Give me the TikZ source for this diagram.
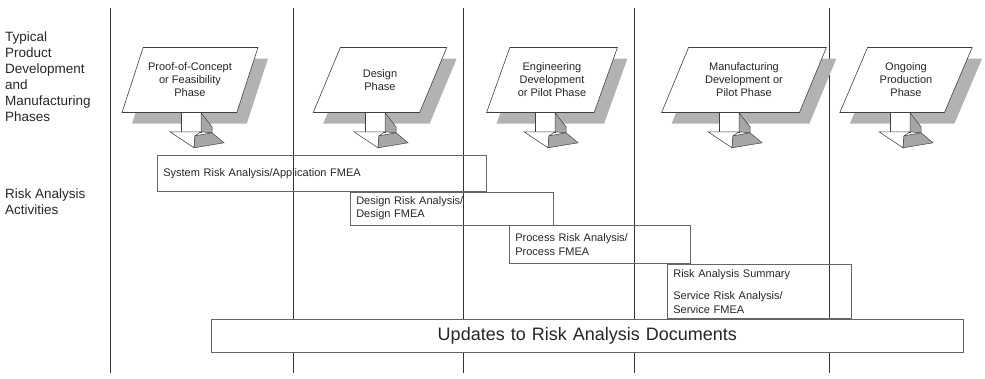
\documentclass[tikz,border=0pt]{standalone}
\usepackage{fontspec}
\setmainfont{Liberation Sans}
\usetikzlibrary{shapes.geometric}
\usetikzlibrary{shadows}
\usetikzlibrary{positioning}

\tikzset{
  phase/.style={trapezium, trapezium left angle=61, trapezium right angle=119,
    trapezium stretches=true, draw=black!75, line width=0.6pt, fill=white,
    minimum height=65pt, inner sep=0pt, align=center, text=black!85,
    font=\fontsize{11}{13}\selectfont,
    drop shadow={shadow xshift=10pt, shadow yshift=-11pt, fill=black!30, opacity=1}},
  riskbox/.style={draw=black!60, line width=0.6pt, anchor=north west, inner xsep=6pt,
    inner ysep=3pt, align=left, text=black!85, font=\fontsize{11}{13.5}\selectfont},
  sidelabel/.style={anchor=west, inner sep=0pt, align=left, text=black!85,
    font=\fontsize{13.5}{16}\selectfont},
  divider/.style={draw=black!80, line width=0.8pt},
  blockarrow/.pic={
    \filldraw[fill=white, draw=black!75, line width=0.5pt] (0,0) -- (0,-19) -- (20,-19) -- (20,0);
    \filldraw[fill=black!35, draw=black!75, line width=0.5pt] (20,0) -- (31,-14) -- (31,-20) -- (20,-19) -- cycle;
    \filldraw[fill=white, draw=black!75, line width=0.5pt] (-11,-19) -- (20,-19) -- (14,-23) -- (13,-35) -- cycle;
    \filldraw[fill=black!35, draw=black!75, line width=0.5pt] (14,-23) -- (31,-20) -- (43,-30) -- (13,-35) -- cycle;
  }
}

\begin{document}
\begin{tikzpicture}[x=1pt, y=1pt]
\useasboundingbox (0,0) rectangle (985,-378);

% Column dividers
\foreach \x in {110,293,463,634,829}
  \draw[divider] (\x,-8) -- (\x,-373);

% Row labels
\node[sidelabel] (phaselbl) at (5,-77) {Typical\\Product\\Development\\and\\Manufacturing\\Phases};
\node[sidelabel] (risklbl) at (5,-202) {Risk Analysis\\Activities};

% Phases
\node[phase, minimum width=136pt] (proof) at (190,-80) {Proof-of-Concept\\or Feasibility\\Phase};
\node[phase, minimum width=134pt] (design) at (380,-80) {Design\\Phase};
\node[phase, minimum width=131pt] (eng) at (552,-80) {Engineering\\Development\\or Pilot Phase};
\node[phase, minimum width=165pt] (manuf) at (744,-80) {Manufacturing\\Development or\\Pilot Phase};
\node[phase, minimum width=133pt] (ongo) at (906,-80) {Ongoing\\Production\\Phase};

% Arrows
\foreach \n/\dx in {proof/-9,design/-15,eng/-17,manuf/-25,ongo/-16}
  \pic at ([xshift=\dx pt]\n.south) {blockarrow};

% Risk analysis activities
\node[riskbox, minimum width=329pt, minimum height=36pt, text width=317pt] (sys) at (157,-155)
  {System Risk Analysis/Application FMEA};
\node[riskbox, minimum width=203pt, minimum height=33pt, text width=191pt] (des) at ([xshift=193pt]sys.south west)
  {Design Risk Analysis/\\Design FMEA};
\node[riskbox, minimum width=181pt, minimum height=38pt, text width=169pt] (proc) at ([xshift=159pt]des.south west)
  {Process Risk Analysis/\\Process FMEA};
\node[riskbox, minimum width=184pt, minimum height=54pt, text width=172pt] (summ) at ([xshift=158pt]proc.south west)
  {Risk Analysis Summary\\[9pt]Service Risk Analysis/\\Service FMEA};
\node[riskbox, fill=white, minimum width=752pt, minimum height=33pt, text width=740pt, align=center,
  font=\fontsize{18}{20}\selectfont] (upd) at (211,-319) {Updates to Risk Analysis Documents};
\end{tikzpicture}
\end{document}
